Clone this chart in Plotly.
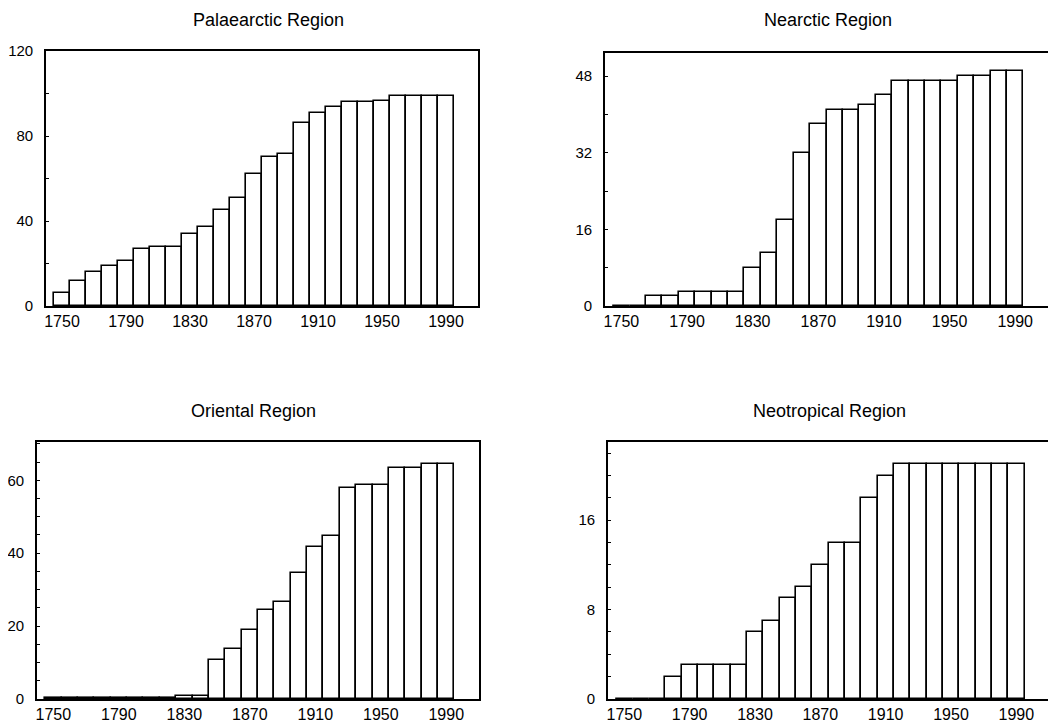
import plotly.graph_objects as go

years = [1750, 1760, 1770, 1780, 1790, 1800, 1810, 1820, 1830, 1840, 1850, 1860, 1870,
         1880, 1890, 1900, 1910, 1920, 1930, 1940, 1950, 1960, 1970, 1980, 1990]

palaearctic = [6, 12, 16, 19, 21, 27, 28, 28, 34, 37, 45, 51, 62,
               70, 71.5, 86, 91, 93.5, 96, 96, 96.7, 99, 99, 99, 99]
nearctic = [0, 0, 2, 2, 3, 3, 3, 3, 8, 11, 18, 32, 38,
            41, 41, 42, 44, 47, 47, 47, 47, 48, 48, 49, 49]
oriental = [0.3, 0.3, 0.3, 0.3, 0.3, 0.3, 0.3, 0.3, 0.9, 0.9, 10.6, 13.8, 18.8,
            24.4, 26.6, 34.7, 41.6, 44.7, 57.8, 58.6, 58.7, 63.5, 63.5, 64.6, 64.6]
neotropical = [0, 0, 0, 2, 3, 3, 3, 3, 6, 7, 9, 10, 12,
               14, 14, 18, 20, 21, 21, 21, 21, 21, 21, 21, 21]

titles = ["Palaearctic Region", "Nearctic Region", "Oriental Region", "Neotropical Region"]
series = [palaearctic, nearctic, oriental, neotropical]
y_max = [120, 52.8, 70.5, 23]
y_major = [40, 16, 20, 8]
y_minor = [20, 8, 5, 2]
x_ticks = [1750, 1790, 1830, 1870, 1910, 1950, 1990]

OFF = 8  # default page body margin
W, H = 1056 - OFF, 727 - OFF
# panel boxes in page pixels: left, right, top, bottom
boxes = [(46, 478, 51, 306), (605, 1048, 53, 306), (37, 479, 442, 699), (608, 1049, 442, 699)]
title_pos = [(268, 20), (828, 20), (253, 411), (829, 411)]

fig = go.Figure()
font = "Liberation Sans, Arial, Helvetica, sans-serif"

def px(v):
    return min(1.0, max(0.0, (v - OFF) / W))

def py(v):
    return min(1.0, max(0.0, 1 - (v - OFF) / H))

for i in range(4):
    xa = "x" if i == 0 else f"x{i+1}"
    ya = "y" if i == 0 else f"y{i+1}"
    fig.add_trace(go.Bar(
        x=years, y=series[i], width=10, xaxis=xa, yaxis=ya,
        marker=dict(color="white", line=dict(color="black", width=1.6)),
        showlegend=False, hoverinfo="x+y"))
    l, r, t, b = boxes[i]
    xkey = "xaxis" if i == 0 else f"xaxis{i+1}"
    ykey = "yaxis" if i == 0 else f"yaxis{i+1}"
    fig.update_layout(**{
        xkey: dict(domain=[px(l), px(r)], anchor=ya, range=[1740, 2010],
                   tickvals=x_ticks, ticks="", showgrid=False, zeroline=False,
                   showline=True, mirror=True, linecolor="black", linewidth=1.6,
                   tickfont=dict(family=font, size=16, color="black"),
                   ticklabelstandoff=0, fixedrange=True, automargin=False),
        ykey: dict(domain=[py(b), py(t)], anchor=xa, range=[0, y_max[i]],
                   dtick=y_major[i], tick0=0, ticks="inside", ticklen=3, tickwidth=1,
                   tickcolor="black",
                   minor=dict(dtick=y_minor[i], tick0=0, ticks="inside", ticklen=3,
                              tickcolor="black", showgrid=False),
                   showgrid=False, zeroline=False,
                   showline=True, mirror=True, linecolor="black", linewidth=1.6,
                   tickfont=dict(family=font, size=15, color="black"),
                   ticklabelstandoff=8, fixedrange=True, automargin=False),
    })
    tx, ty = title_pos[i]
    fig.add_annotation(x=px(tx), y=py(ty), xref="paper", yref="paper",
                       text=titles[i], showarrow=False, xanchor="center", yanchor="middle",
                       font=dict(family=font, size=18, color="black"))

fig.update_layout(width=W, height=H, margin=dict(l=0, r=0, t=0, b=0, autoexpand=False),
                  plot_bgcolor="white", paper_bgcolor="white", bargap=0)

fig.write_html("out.html")
